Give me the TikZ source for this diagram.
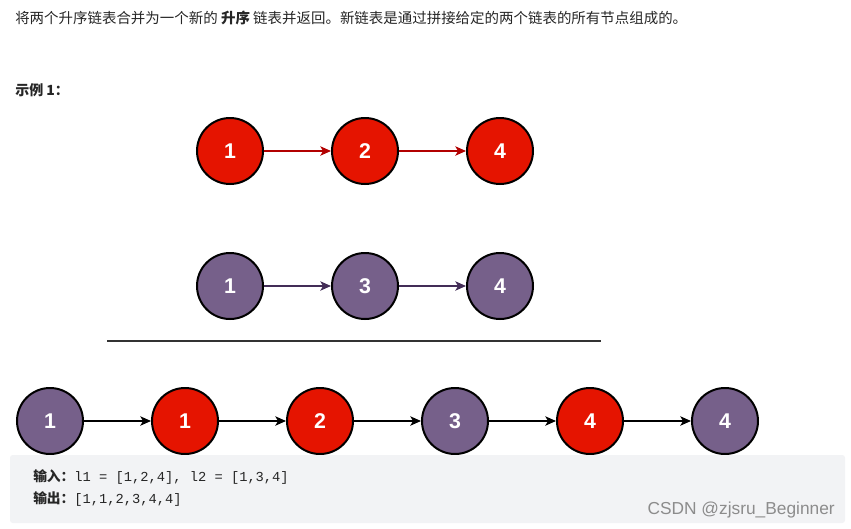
\documentclass[tikz,border=0pt]{standalone}
\usepackage{fontspec}
\setmainfont{Liberation Sans}
\newfontfamily\cjk{Noto Sans CJK SC}
\newfontfamily\codefont{Liberation Mono}
\usetikzlibrary{arrows.meta,positioning}
\definecolor{lred}{HTML}{E51400}
\definecolor{lredline}{HTML}{B20000}
\definecolor{lpurple}{HTML}{76608A}
\definecolor{lpurpleline}{HTML}{432D57}
\definecolor{codebg}{HTML}{F2F3F5}
\definecolor{txtgray}{HTML}{262626}
\tikzset{
  listnode/.style={draw=black, circle, line width=1.5pt, minimum size=49.5pt,
    inner sep=0pt, text=white, font=\fontsize{16}{16}\selectfont\bfseries},
  rednode/.style={listnode, fill=lred},
  purplenode/.style={listnode, fill=lpurple},
  link/.style={-{Stealth[length=8pt,width=7pt,inset=2pt]}, line width=1pt},
}

\begin{document}
\begin{tikzpicture}[x=0.75pt, y=-0.75pt]
\useasboundingbox (0,0) rectangle (851,529);
% description
\node[anchor=west, inner sep=0pt, text=txtgray] (title) at (15,18)
  {\cjk\fontsize{10.85}{12}\selectfont 将两个升序链表合并为一个新的 \textbf{升序} 链表并返回。新链表是通过拼接给定的两个链表的所有节点组成的。};
\node[anchor=west, inner sep=0pt, text=txtgray] (ex) at (15,90)
  {\cjk\fontsize{10.5}{12}\selectfont\bfseries 示例 1：};

% list 1
\node[rednode] (a1) at (230,151) {1};
\node[rednode] (a2) at (365,151) {2};
\node[rednode] (a3) at (500,151) {4};
\draw[link, lredline] (a1) -- (a2);
\draw[link, lredline] (a2) -- (a3);

% list 2
\node[purplenode] (b1) at (230,286) {1};
\node[purplenode] (b3) at (365,286) {3};
\node[purplenode] (b4) at (500,286) {4};
\draw[link, lpurpleline] (b1) -- (b3);
\draw[link, lpurpleline] (b3) -- (b4);

\coordinate (ruleL) at (107,341);
\coordinate (ruleR) at (601,341);
\draw[line width=1.5pt, black!80] (ruleL) -- (ruleR);

% merged list
\node[purplenode] (m1) at (50,421) {1};
\node[rednode] (m2) at (185,421) {1};
\node[rednode] (m3) at (320,421) {2};
\node[purplenode] (m4) at (455,421) {3};
\node[rednode] (m5) at (590,421) {4};
\node[purplenode] (m6) at (725,421) {4};
\foreach \i/\j in {m1/m2,m2/m3,m3/m4,m4/m5,m5/m6}
  \draw[link, black] (\i) -- (\j);

% result box
\fill[codebg, rounded corners=2pt] (10,455) rectangle (845,523);
\node[anchor=west, inner sep=0pt, text=txtgray] (inp) at (33,477)
  {\cjk\fontsize{10.3}{12}\selectfont\bfseries 输入：\codefont\mdseries l1 = [1,2,4], l2 = [1,3,4]};
\node[anchor=west, inner sep=0pt, text=txtgray] (outp) at (33,499)
  {\cjk\fontsize{10.3}{12}\selectfont\bfseries 输出：\codefont\mdseries [1,1,2,3,4,4]};
\node[anchor=east, inner sep=0pt, text=black!45] (mark) at (835,510)
  {\fontsize{13}{14}\selectfont CSDN @zjsru\_Beginner};
\end{tikzpicture}
\end{document}
